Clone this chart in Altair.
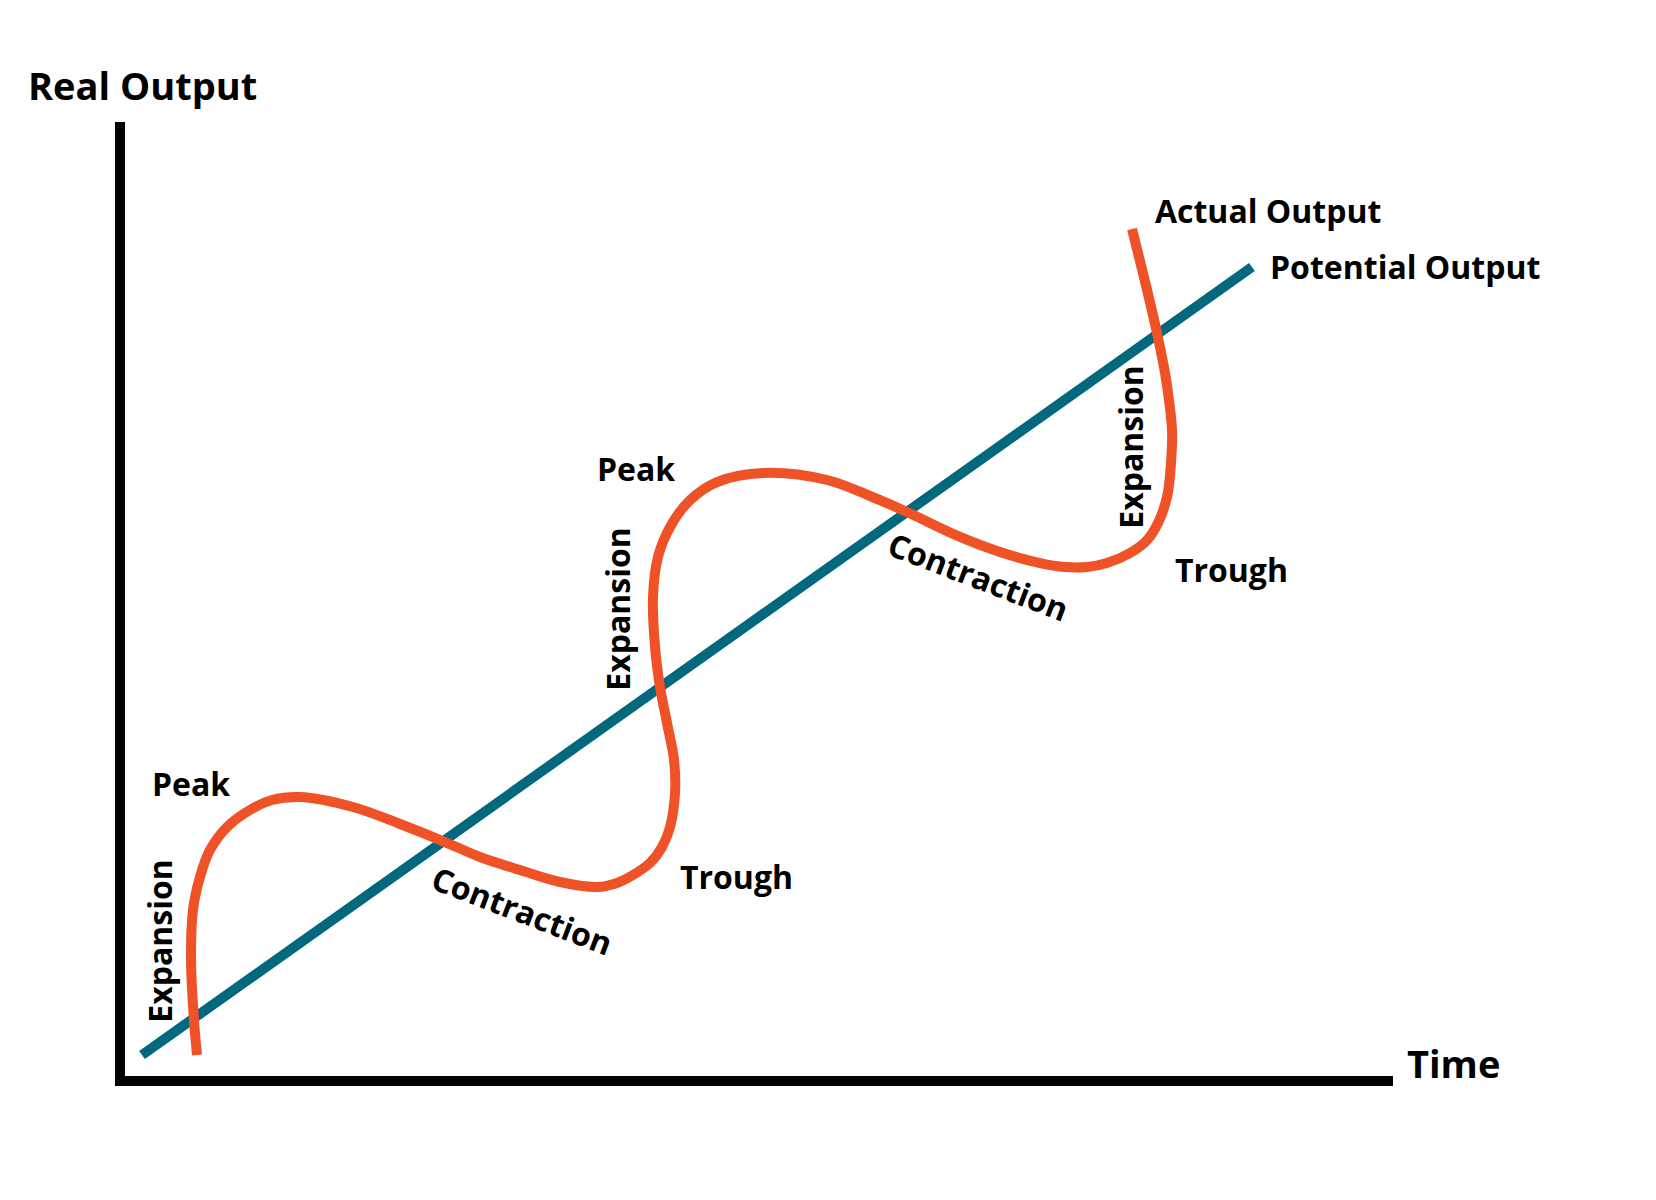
import altair as alt
import pandas as pd

# ---- data (Time, Real Output) in chart units: axes run 0..100 ----
actual_time = [6.05, 5.81, 5.58, 5.73, 6.28, 7.07, 8.41, 10.21, 11.94, 14.14,
               18.30, 22.00, 25.53, 28.28, 31.42, 34.56, 37.47, 39.04, 40.30, 41.63,
               42.58, 43.21, 43.60, 43.52, 42.97, 42.42, 42.03, 41.87, 42.26, 43.21,
               44.78, 46.90, 50.51, 55.54, 58.92, 61.82, 65.99, 69.13, 72.27, 74.23,
               75.96, 77.53, 79.34, 80.68, 81.54, 82.25, 82.56, 82.64, 82.40, 82.09,
               81.46, 80.68, 79.50]
actual_output = [2.71, 6.36, 12.62, 17.83, 21.27, 24.09, 26.49, 28.26, 29.30, 29.61,
                 28.57, 26.80, 24.92, 23.36, 22.00, 20.75, 20.23, 20.65, 21.48, 22.73,
                 24.40, 26.49, 30.03, 33.47, 37.33, 41.08, 45.26, 50.47, 54.64, 57.77,
                 60.58, 62.46, 63.40, 62.67, 61.00, 59.33, 56.73, 55.16, 54.01, 53.60,
                 53.60, 54.01, 55.06, 56.41, 58.19, 60.90, 64.44, 67.88, 71.01, 73.83,
                 78.00, 82.48, 88.84]

potential_time = [1.73, 88.92]
potential_output = [2.71, 84.88]

axis_time = [0, 0, 100]
axis_output = [100, 0, 0]

# axis titles
title_text = ["Real Output", "Time"]
title_time = [-7.23, 101.10]
title_output = [102.29, 0.31]

# horizontal labels
label_text = ["Actual Output", "Potential Output", "Peak", "Peak", "Trough", "Trough"]
label_time = [81.30, 90.34, 2.51, 37.47, 43.99, 82.87]
label_output = [89.47, 83.63, 29.72, 62.57, 20.02, 52.03]

# vertical "Expansion" labels
exp_text = ["Expansion", "Expansion", "Expansion"]
exp_time = [4.08, 40.06, 80.36]
exp_output = [14.60, 49.22, 66.11]

# slanted "Contraction" labels
con_text = ["Contraction", "Contraction"]
con_time = [31.26, 67.09]
con_output = [16.58, 51.41]

ORANGE = "#F05228"
TEAL = "#02687D"
FONT = "Open Sans"
WEIGHT = "bold"

actual_df = pd.DataFrame({"t": actual_time, "o": actual_output,
                          "i": list(range(len(actual_time)))})
potential_df = pd.DataFrame({"t": potential_time, "o": potential_output,
                             "i": list(range(len(potential_time)))})
axis_df = pd.DataFrame({"t": axis_time, "o": axis_output,
                        "i": list(range(len(axis_time)))})
title_df = pd.DataFrame({"t": title_time, "o": title_output, "s": title_text})
label_df = pd.DataFrame({"t": label_time, "o": label_output, "s": label_text})
exp_df = pd.DataFrame({"t": exp_time, "o": exp_output, "s": exp_text})
con_df = pd.DataFrame({"t": con_time, "o": con_output, "s": con_text})

xs = alt.Scale(domain=[0, 100], nice=False, zero=False)
ys = alt.Scale(domain=[0, 100], nice=False, zero=False)


def X():
    return alt.X("t:Q", scale=xs, axis=None)


def Y():
    return alt.Y("o:Q", scale=ys, axis=None)


axes = alt.Chart(axis_df).mark_line(
    color="black", strokeWidth=10, strokeJoin="miter", strokeCap="butt"
).encode(x=X(), y=Y(), order="i:Q")

potential = alt.Chart(potential_df).mark_line(
    color=TEAL, strokeWidth=10, strokeCap="butt"
).encode(x=X(), y=Y(), order="i:Q")

actual = alt.Chart(actual_df).mark_line(
    color=ORANGE, strokeWidth=10, strokeCap="butt", interpolate="catmull-rom"
).encode(x=X(), y=Y(), order="i:Q")

titles = alt.Chart(title_df).mark_text(
    font=FONT, fontSize=38, fontWeight=WEIGHT, align="left",
    baseline="alphabetic", color="black"
).encode(x=X(), y=Y(), text="s:N")

labels = alt.Chart(label_df).mark_text(
    font=FONT, fontSize=32, fontWeight=WEIGHT, align="left",
    baseline="alphabetic", color="black"
).encode(x=X(), y=Y(), text="s:N")

exp_labels = alt.Chart(exp_df).mark_text(
    font=FONT, fontSize=32, fontWeight=WEIGHT, align="center",
    baseline="alphabetic", angle=270, color="black"
).encode(x=X(), y=Y(), text="s:N")

con_labels = alt.Chart(con_df).mark_text(
    font=FONT, fontSize=32, fontWeight=WEIGHT, align="center",
    baseline="alphabetic", angle=21, color="black"
).encode(x=X(), y=Y(), text="s:N")

chart = alt.layer(
    axes, potential, actual, titles, labels, exp_labels, con_labels
).properties(
    width=1273, height=959,
    autosize=alt.AutoSizeParams(type="none"),
    padding={"left": 120, "top": 122, "right": 263, "bottom": 119},
    background="white",
).configure_view(stroke=None)

chart.save("out.html", embed_options={"renderer": "svg", "actions": False})
